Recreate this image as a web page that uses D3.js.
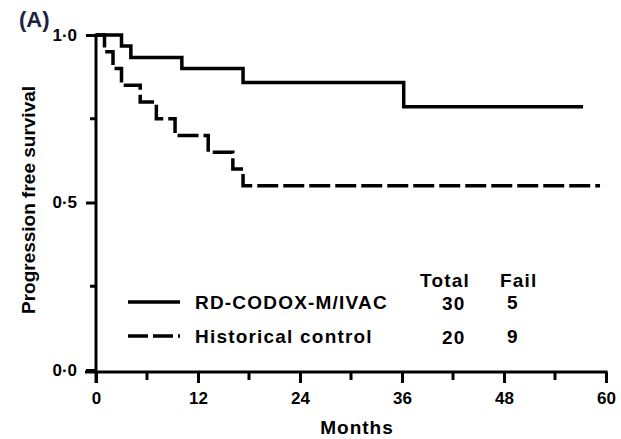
<!DOCTYPE html>
<html>
<head>
<meta charset="utf-8">
<script src="https://cdn.jsdelivr.net/npm/d3@7"></script>
<style>
  body { margin: 0; background: #fff; }
  #chart { width: 621px; height: 439px; }
  text { font-family: "Liberation Sans", Arial, sans-serif; font-weight: bold; fill: #000; }
</style>
</head>
<body>
<div id="chart"></div>
<script>
// x ticks (months) and y ticks
const monthTicks = [0, 12, 24, 36, 48, 60];
const monthMinor = [6, 18, 30, 42, 54];
const survTicks = [0, 0.5, 1.0];
const survMinor = [0.25, 0.75];

// Kaplan-Meier steps
const rdTimes = [0, 3.0, 4.1, 10.1, 17.3, 36.2, 57.3];
const rdSurv = [1, 0.967, 0.933, 0.900, 0.858, 0.786, 0.786];
const hcTimes = [0, 1.0, 2.0, 3.0, 5.2, 7.1, 9.3, 13.2, 16.1, 17.3, 59.3];
const hcSurv = [1, 0.95, 0.90, 0.85, 0.80, 0.75, 0.70, 0.65, 0.60, 0.55, 0.55];

const seriesNames = ["RD-CODOX-M/IVAC", "Historical control"];
const totals = [30, 20];
const fails = [5, 9];

const width = 621, height = 439;
const svg = d3.select("#chart").append("svg")
    .attr("width", width)
    .attr("height", height);

const x = d3.scaleLinear().domain([0, 60]).range([96, 606]);
const y = d3.scaleLinear().domain([0, 1]).range([370, 35]);
const xAxisY = 372;

const fmt = d => d3.format(".1f")(d).replace(".", "·");

// X axis
const gx = svg.append("g")
    .attr("transform", `translate(0,${xAxisY})`)
    .call(d3.axisBottom(x).tickValues(monthTicks).tickSize(11).tickPadding(9).tickSizeOuter(0));
gx.select(".domain").remove();
gx.selectAll(".tick line").attr("stroke", "#000").attr("stroke-width", 3);
gx.selectAll(".tick text").style("font-size", "17px").attr("font-family", null);
gx.append("line")
    .attr("x1", 85).attr("x2", x(60) + 1.5)
    .attr("stroke", "#000").attr("stroke-width", 3);
gx.selectAll(".minor")
    .data(monthMinor)
    .join("line")
    .attr("class", "minor")
    .attr("x1", d => x(d)).attr("x2", d => x(d))
    .attr("y1", 0).attr("y2", 8)
    .attr("stroke", "#000").attr("stroke-width", 3);

// Y axis
const gy = svg.append("g")
    .attr("transform", `translate(${x(0)},0)`)
    .call(d3.axisLeft(y).tickValues(survTicks).tickSize(10).tickPadding(9).tickFormat(fmt).tickSizeOuter(0));
gy.select(".domain").remove();
gy.selectAll(".tick line").attr("stroke", "#000").attr("stroke-width", 3);
gy.selectAll(".tick text").style("font-size", "17px").attr("font-family", null);
gy.append("line")
    .attr("y1", y(1) - 1.5).attr("y2", 383)
    .attr("stroke", "#000").attr("stroke-width", 3);
gy.selectAll(".minor")
    .data(survMinor)
    .join("line")
    .attr("class", "minor")
    .attr("x1", -6).attr("x2", 0)
    .attr("y1", d => y(d)).attr("y2", d => y(d))
    .attr("stroke", "#000").attr("stroke-width", 3);

// Axis titles
svg.append("text")
    .attr("x", 357).attr("y", 434)
    .attr("text-anchor", "middle")
    .style("font-size", "19px")
    .style("letter-spacing", "1px")
    .text("Months");

svg.append("text")
    .attr("transform", "translate(35,200) rotate(-90)")
    .attr("text-anchor", "middle")
    .style("font-size", "19px")
    .text("Progression free survival");

svg.append("text")
    .attr("x", 19).attr("y", 27)
    .style("font-size", "22px")
    .style("fill", "#1c2340")
    .text("(A)");

// Curves
const line = d3.line()
    .x(d => x(d[0]))
    .y(d => y(d[1]))
    .curve(d3.curveStepAfter);

svg.append("path")
    .datum(d3.zip(rdTimes, rdSurv))
    .attr("d", line)
    .attr("fill", "none")
    .attr("stroke", "#000")
    .attr("stroke-width", 3.5);

svg.append("path")
    .datum(d3.zip(hcTimes, hcSurv))
    .attr("d", line)
    .attr("fill", "none")
    .attr("stroke", "#000")
    .attr("stroke-width", 3.5)
    .attr("stroke-dasharray", "21,5");

// Legend with table
const legY = [302, 336];
const dashes = [null, "20,5"];
const legFont = "19px";
const legSpacing = "1.2px";
const leg = svg.append("g");
leg.selectAll(".legline")
    .data(seriesNames)
    .join("line")
    .attr("x1", 128).attr("x2", 180)
    .attr("y1", (d, i) => legY[i]).attr("y2", (d, i) => legY[i])
    .attr("stroke", "#000").attr("stroke-width", 3.5)
    .attr("stroke-dasharray", (d, i) => dashes[i]);
leg.selectAll(".legtext")
    .data(seriesNames)
    .join("text")
    .attr("x", 195)
    .attr("y", (d, i) => legY[i] + 7)
    .style("font-size", legFont)
    .style("letter-spacing", legSpacing)
    .text(d => d);
leg.append("text").attr("x", 420).attr("y", 287)
    .style("font-size", legFont).style("letter-spacing", legSpacing).text("Total");
leg.append("text").attr("x", 500).attr("y", 287)
    .style("font-size", legFont).style("letter-spacing", legSpacing).text("Fail");
leg.selectAll(".tot")
    .data(totals)
    .join("text")
    .attr("x", 442).attr("y", (d, i) => legY[i] + 8)
    .style("font-size", legFont)
    .style("letter-spacing", legSpacing)
    .text(d => d);
leg.selectAll(".fail")
    .data(fails)
    .join("text")
    .attr("x", 507).attr("y", (d, i) => legY[i] + 7)
    .style("font-size", legFont)
    .text(d => d);
</script>
</body>
</html>
